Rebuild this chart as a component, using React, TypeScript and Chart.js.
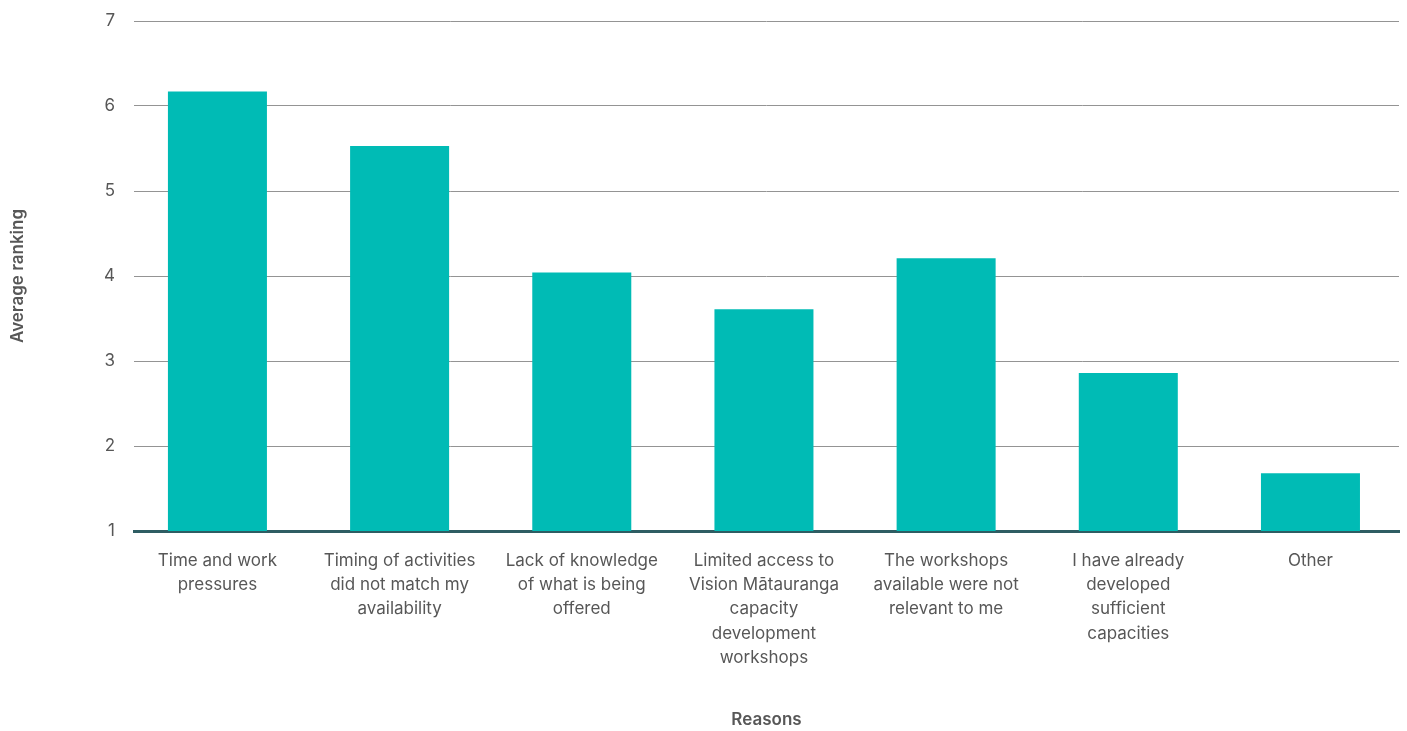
import React, { useEffect, useRef } from "react";
import { Chart, registerables } from "chart.js";

Chart.register(...registerables);

const categories: string[][] = [
  ["Time and work", "pressures"],
  ["Timing of activities", "did not match my", "availability"],
  ["Lack of knowledge", "of what is being", "offered"],
  ["Limited access to", "Vision Mātauranga", "capacity", "development", "workshops"],
  ["The workshops", "available were not", "relevant to me"],
  ["I have already", "developed", "sufficient", "capacities"],
  ["Other"],
];

const averageRanking: number[] = [6.17, 5.53, 4.04, 3.61, 4.21, 2.86, 1.68];

const yTicks: number[] = [1, 2, 3, 4, 5, 6, 7];

const FONT = "Inter, 'Noto Sans', sans-serif";
const TEXT = "#575757";

export default function App() {
  const ref = useRef<HTMLCanvasElement | null>(null);

  useEffect(() => {
    if (!ref.current) return;
    const points = averageRanking.map((v, i) => ({ x: i, y: v }));
    const chart = new Chart(ref.current, {
      type: "bar",
      data: {
        datasets: [
          {
            label: "Average ranking",
            data: points,
            backgroundColor: "#00BBB5",
            borderWidth: 0,
            categoryPercentage: 1,
            barPercentage: 0.5435,
          },
        ],
      },
      options: {
        animation: false,
        responsive: true,
        maintainAspectRatio: false,
        layout: { padding: { top: 21, right: 8, bottom: 0, left: 0 } },
        plugins: {
          legend: { display: false },
          tooltip: { enabled: false },
        },
        scales: {
          x: {
            type: "linear",
            offset: false,
            bounds: "data",
            min: -0.458,
            max: 6.486,
            afterBuildTicks: (s: any) => {
              s.ticks = categories.map((_, i) => ({ value: i }));
            },
            grid: { display: false, drawTicks: false },
            border: { display: true, color: "#2E5D63", width: 3 },
            ticks: {
              color: TEXT,
              font: { family: FONT, size: 17, lineHeight: 1.42 },
              padding: 18,
              maxRotation: 0,
              autoSkip: false,
              callback: (v: any) => categories[Math.round(Number(v))] ?? "",
            },
            title: {
              display: true,
              text: "Reasons",
              color: TEXT,
              font: { family: FONT, size: 17, weight: 600 },
              padding: { top: 0, bottom: 1 },
            },
            afterFit: (s: any) => {
              s.height = 200;
              s.paddingLeft = 0;
              s.paddingRight = 0;
            },
          },
          y: {
            min: 1,
            max: 7,
            afterBuildTicks: (s: any) => {
              s.ticks = yTicks.map((v) => ({ value: v }));
            },
            grid: { color: "#949494", lineWidth: 1, drawTicks: false },
            border: { display: false },
            ticks: {
              color: TEXT,
              font: { family: FONT, size: 17 },
              padding: 19,
            },
            title: {
              display: true,
              text: "Average ranking",
              color: TEXT,
              font: { family: FONT, size: 17, weight: 600 },
              padding: { top: 8, bottom: 0 },
            },
            afterFit: (s: any) => {
              s.width = 134;
              s.paddingTop = 0;
              s.paddingBottom = 0;
            },
          },
        },
      },
    });
    return () => chart.destroy();
  }, []);

  return (
    <div style={{ position: "fixed", left: 0, top: 0, width: 1407, height: 731, background: "#fff" }}>
      <canvas ref={ref} />
    </div>
  );
}
